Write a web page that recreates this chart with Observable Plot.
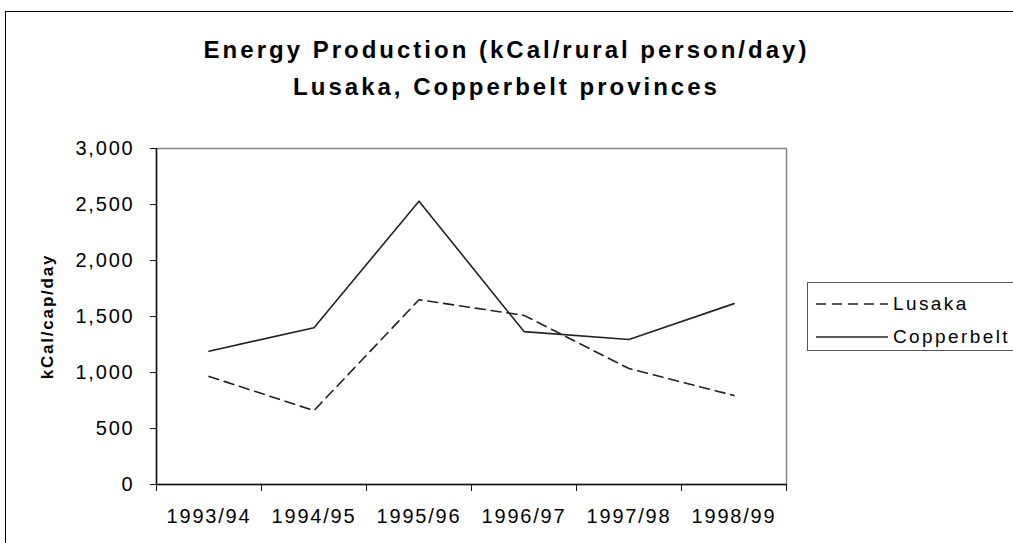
<!DOCTYPE html>
<html><head><meta charset="utf-8">
<script src="https://cdn.jsdelivr.net/npm/d3@7"></script>
<script src="https://cdn.jsdelivr.net/npm/@observablehq/plot@0.6"></script>
<style>
body{margin:0;background:#fff;overflow:hidden}
#wrap{position:relative;width:1013px;height:543px;overflow:hidden;font-family:"Liberation Sans",Arial,sans-serif;color:#000}
#frame{position:absolute;left:5px;top:11px;width:1100px;height:600px;border:1.5px solid #000;box-sizing:border-box}
#title{position:absolute;left:0;width:1013px;top:31px;text-align:center;font-weight:bold;font-size:24px;letter-spacing:3px;line-height:37px}
#chart{position:absolute;left:0;top:0}
#legend{position:absolute;left:807px;top:282px;width:300px;height:69px;border:1px solid #555;box-sizing:border-box;background:#fff}
.lrow{position:absolute;left:8px;height:22px;display:flex;align-items:center;font-size:19px;letter-spacing:2.4px}
.lrow svg{margin-right:5px}
</style></head>
<body>
<div id="wrap">
  <div id="frame"></div>
  <div id="chart"></div>
  <div id="title">Energy Production (kCal/rural person/day)<br>Lusaka, Copperbelt provinces</div>
  <div id="legend"></div>
</div>
<script>
const years = ["1993/94", "1994/95", "1995/96", "1996/97", "1997/98", "1998/99"];
const lusaka = [965, 660, 1650, 1510, 1035, 795];
const copperbelt = [1190, 1400, 2530, 1365, 1295, 1615];
const seriesNames = ["Lusaka", "Copperbelt"];
const seriesDash = ["10,6", null];
const yTicks = [0, 500, 1000, 1500, 2000, 2500, 3000];
const yLabel = "kCal/cap/day";

const seriesValues = [lusaka, copperbelt];
const rows = [];
seriesNames.forEach((s, k) => years.forEach((y, i) => rows.push({series: s, idx: i + 0.5, year: y, value: seriesValues[k][i]})));

const chart = Plot.plot({
  width: 1013,
  height: 543,
  marginLeft: 156,
  marginRight: 227,
  marginTop: 148,
  marginBottom: 59,
  style: {fontFamily: '"Liberation Sans", Arial, sans-serif', fontSize: "20px", letterSpacing: "1.8px", color: "#000", background: "transparent"},
  x: {type: "linear", domain: [0, years.length], axis: null},
  y: {domain: [0, 3000], axis: null},
  marks: [
    Plot.frame({stroke: "#888", strokeWidth: 1.5}),
    Plot.ruleX([0], {stroke: "#111", strokeWidth: 1.5}),
    Plot.ruleY([0], {stroke: "#111", strokeWidth: 1.5}),
    Plot.axisY({ticks: yTicks, tickFormat: d3.format(","), tickSize: 6, tickPadding: 16, fontSize: 20, label: null, stroke: "#111"}),
    Plot.axisX({ticks: d3.range(years.length + 1), tickFormat: () => "", tickSize: 7, label: null, stroke: "#111"}),
    Plot.axisX({ticks: years.map((d, i) => i + 0.5), tickFormat: d => years[Math.floor(d)], tickSize: 0, tickPadding: 24, fontSize: 20, label: null}),
    Plot.text([yLabel], {frameAnchor: "left", textAnchor: "middle", rotate: -90, dx: -109, fontWeight: "bold", fontSize: 17, letterSpacing: "0.4px"}),
    Plot.line(rows.filter(d => d.series === "Lusaka"), {x: "idx", y: "value", stroke: "#222", strokeWidth: 1.6, strokeDasharray: seriesDash[0]}),
    Plot.line(rows.filter(d => d.series === "Copperbelt"), {x: "idx", y: "value", stroke: "#222", strokeWidth: 1.6})
  ]
});
document.getElementById("chart").appendChild(chart);

const legend = document.getElementById("legend");
seriesNames.forEach((s, k) => {
  const row = document.createElement("div");
  row.className = "lrow";
  row.style.top = (10 + k * 33) + "px";
  row.innerHTML = `<svg width="72" height="4"><line x1="0" y1="2" x2="72" y2="2" stroke="#222" stroke-width="1.6" ${seriesDash[k] ? `stroke-dasharray="${seriesDash[k]}"` : ""}/></svg><span>${s}</span>`;
  legend.appendChild(row);
});
</script>
</body></html>
